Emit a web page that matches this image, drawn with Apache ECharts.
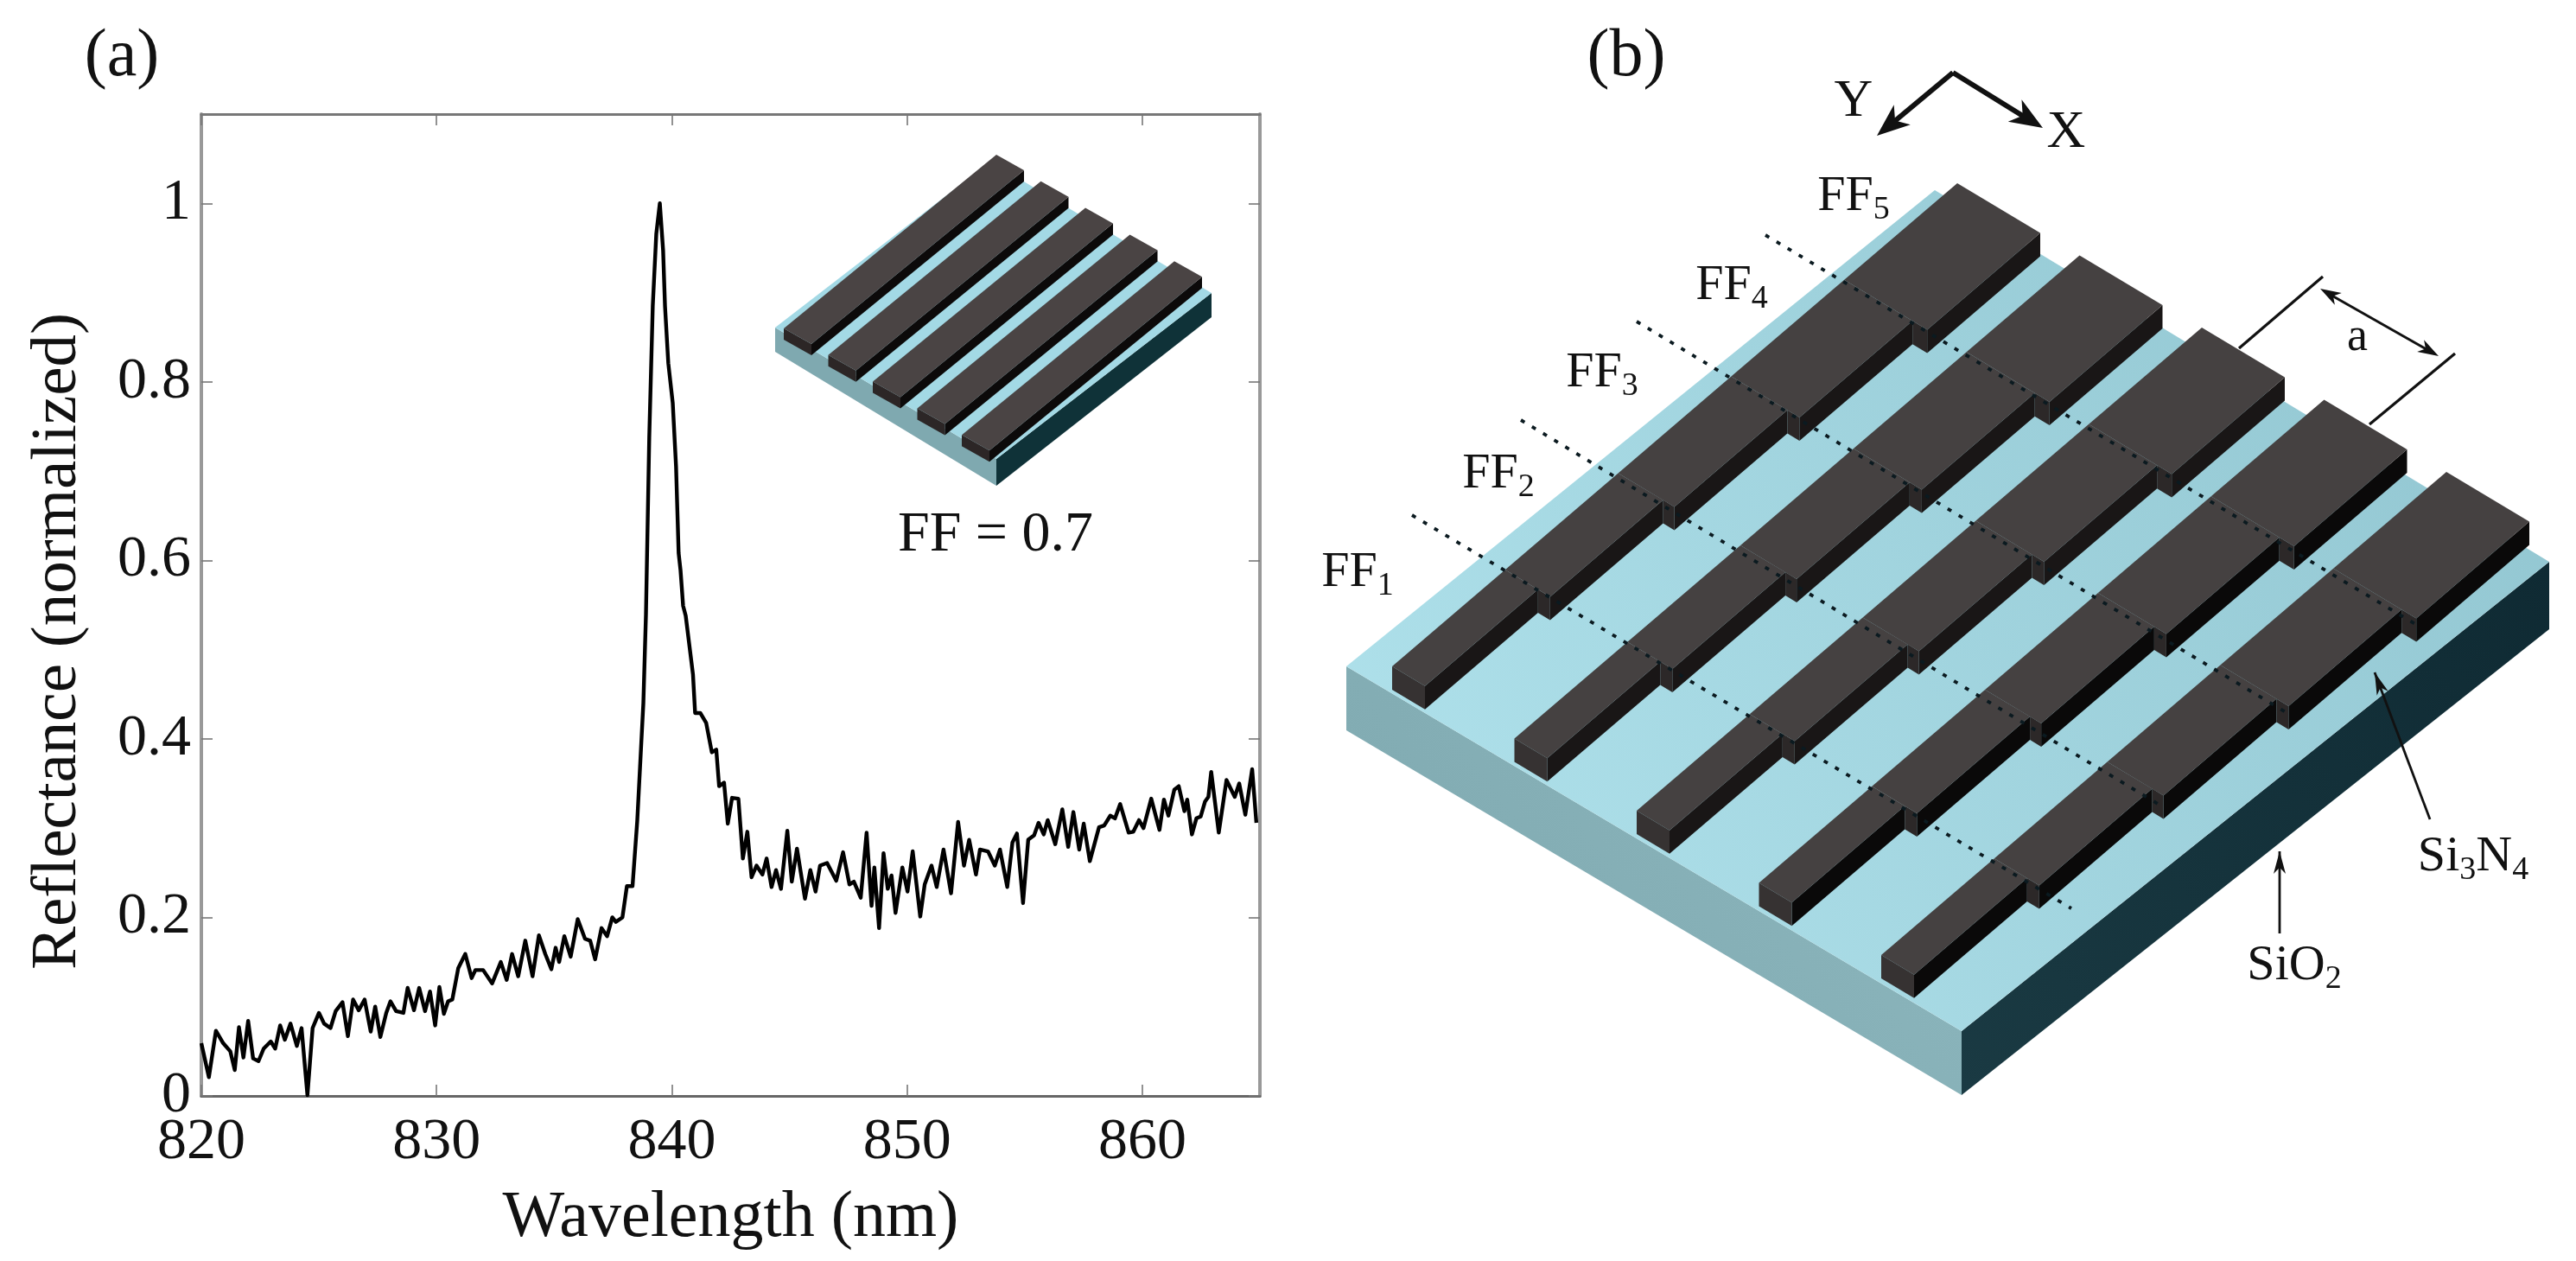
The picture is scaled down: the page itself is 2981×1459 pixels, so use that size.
<!DOCTYPE html>
<html><head><meta charset="utf-8">
<style>html,body{margin:0;padding:0;background:#fff}#c{width:2981px;height:1459px}</style>
<script src="https://cdn.jsdelivr.net/npm/echarts@6/dist/echarts.min.js"></script>
</head><body><div id="c"></div>
<script>
// ---- data ----
const wavelength = [
820,820.32,820.62,820.93,821.23,821.42,821.6,821.79,821.99,822.2,822.43,822.65,822.95,823.14,823.35,823.55,823.79,824.06,824.26,824.51,
824.73,825,825.22,825.49,825.71,826,826.23,826.45,826.69,826.94,827.2,827.39,827.61,827.86,828.04,828.28,828.59,828.77,829.04,829.26,
829.51,829.72,829.94,830.12,830.31,830.49,830.67,830.92,831.22,831.49,831.65,831.98,832.36,832.73,832.98,833.21,833.47,833.77,834.08,834.35,
834.62,834.88,835.06,835.21,835.43,835.7,836,836.31,836.53,836.74,837.01,837.25,837.47,837.62,837.9,838.09,838.33,838.53,838.79,838.9,
839.04,839.19,839.34,839.49,839.56,839.63,839.71,839.85,840.04,840.18,840.29,840.37,840.48,840.59,840.9,840.99,841.21,841.46,841.7,841.89,
842.01,842.22,842.38,842.56,842.83,843.02,843.21,843.39,843.6,843.85,844.03,844.24,844.43,844.64,844.91,845.1,845.32,845.66,845.89,846.11,
846.3,846.6,846.99,847.28,847.55,847.74,848.03,848.28,848.49,848.61,848.81,849,849.18,849.34,849.51,849.8,850.02,850.24,850.56,850.75,
851.04,851.26,851.55,851.87,852.17,852.42,852.64,852.93,853.1,853.44,853.73,853.95,854.26,854.48,854.67,854.93,855.15,855.4,855.59,855.81,
855.98,856.3,856.6,856.85,857.07,857.32,857.51,857.77,858.16,858.38,858.64,858.84,859.06,859.42,859.62,859.86,860.05,860.38,860.73,860.92,
861.11,861.36,861.55,861.79,861.91,862.11,862.3,862.48,862.67,862.81,862.93,863.25,863.58,863.93,864.12,864.38,864.67,864.85];
const reflectance = [
.059,.021,.073,.059,.05,.029,.077,.043,.084,.042,.039,.053,.061,.053,.079,.063,.081,.056,.076,.001,
.076,.093,.081,.076,.095,.105,.067,.108,.096,.108,.072,.1,.066,.093,.106,.095,.093,.121,.096,.121,
.095,.117,.079,.122,.092,.106,.108,.143,.159,.132,.141,.141,.126,.15,.13,.159,.134,.174,.134,.18,
.159,.142,.166,.15,.179,.156,.198,.176,.174,.153,.188,.179,.2,.195,.2,.235,.235,.308,.44,.539,
.737,.885,.966,1,1,.947,.885,.821,.776,.705,.608,.589,.549,.538,.472,.429,.429,.418,.385,.388,
.347,.351,.305,.334,.333,.266,.296,.245,.258,.248,.266,.234,.253,.232,.297,.24,.277,.221,.253,.229,
.258,.261,.241,.273,.237,.24,.222,.295,.213,.256,.188,.272,.232,.247,.205,.256,.229,.274,.201,.237,
.258,.234,.276,.227,.307,.258,.287,.248,.276,.274,.258,.276,.234,.284,.294,.216,.287,.292,.306,.293,
.309,.282,.321,.279,.318,.276,.305,.263,.301,.303,.314,.311,.327,.295,.296,.309,.3,.333,.298,.332,
.314,.343,.347,.319,.332,.293,.311,.313,.33,.335,.363,.295,.354,.335,.35,.315,.366,.306];
const xTicks = [820,830,840,850,860];
const yTicks = [0,0.2,0.4,0.6,0.8,1];
const xTitle = 'Wavelength (nm)';
const yTitle = 'Reflectance (normalized)';

const chart = echarts.init(document.getElementById('c'));
const FONT = '"Liberation Serif","Times New Roman",serif';
const TICK = '#777';

// ---- illustration helpers (schematics, not data) ----
const g = [];
const poly = (pts, fill, z) => g.push({type:'polygon', z:z||10, silent:true, shape:{points:pts}, style:{fill, stroke:null}});
const seg = (a,b,stroke,lw,dash) => g.push({type:'line', z:20, silent:true, shape:{x1:a[0],y1:a[1],x2:b[0],y2:b[1]}, style:{stroke, lineWidth:lw, lineDash:dash||null}});
const txt = (x,y,text,size,extra) => g.push(Object.assign({type:'text', z:30, silent:true, x, y, style:Object.assign({text, fill:'#111', font:size+'px '+FONT, textAlign:'center', textVerticalAlign:'middle'}, extra||{})}));
const subText = (x,y,text) => g.push({type:'text', z:30, silent:true, x, y, style:{
  text, textAlign:'center', textVerticalAlign:'middle', fill:'#111',
  rich:{a:{font:'58px '+FONT,fill:'#111',lineHeight:68,verticalAlign:'middle'},s:{font:'38px '+FONT,fill:'#111',lineHeight:68,verticalAlign:'bottom'}}
}});
const add = (p,q,k) => [p[0]+q[0]*(k===undefined?1:k), p[1]+q[1]*(k===undefined?1:k)];
const arrowHead = (tip, from, len, wid) => {
  const dx=tip[0]-from[0], dy=tip[1]-from[1], n=Math.hypot(dx,dy), ux=dx/n, uy=dy/n;
  const b=[tip[0]-ux*len, tip[1]-uy*len];
  poly([tip,[b[0]-uy*wid,b[1]+ux*wid],[tip[0]-ux*len*.72,tip[1]-uy*len*.72],[b[0]+uy*wid,b[1]-ux*wid]], '#111', 21);
};
const topFill = (c1,c2) => new echarts.graphic.LinearGradient(0,1,1,0,[{offset:0,color:c1},{offset:1,color:c2}]);

// ---- panel (b) ----
const BL=[1558,771], BF=[2270,1193], BR=[2950,650], BB=[2239,220], H=[0,74];
poly([BL,BF,add(BF,H),add(BL,H)], topFill('#7ea8af','#8db7be'));
poly([BF,BR,[2950,728],add(BF,H)], topFill('#1a3a43','#0f2a33'));
poly([BL,BB,BR,BF], topFill('#b2e4ee','#8fc3ce'));
const start=[1611,771], along=[654,-559], cross=[1,0.6], barH=27, offs=[141.5,83.5];
const widths=[38,52,65,79,96];
for(let k=0;k<5;k++){
  const o=[offs[0]*k, offs[1]*k];
  for(let s=4;s>=0;s--){
    const a=add(add(start,o),along,s/5), b=add(add(start,o),along,(s+1)/5);
    const w=[widths[s]*cross[0], widths[s]*cross[1]];
    const ar=add(a,w), br=add(b,w);
    poly([ar,br,add(br,[0,barH]),add(ar,[0,barH])], k>=3?'#0a0909':'#191616', 11+k);
    if(s<4){ // step face where the next, wider segment begins
      const wn=[widths[s+1]*cross[0], widths[s+1]*cross[1]];
      const bw=add(b,wn);
      poly([br,bw,add(bw,[0,barH]),add(br,[0,barH])], '#2c2828', 11+k);
    }
    poly([a,b,br,ar], '#454141', 12+k);
    if(s===0) poly([a,ar,add(ar,[0,barH]),add(a,[0,barH])], '#363232', 12+k);
  }
}
const ffStart=[[1634,596],[1760,486],[1894,372],[2043,272]];
const ffEnd=[[2397,1051],[2502,933],[2645,824],[2795,722]];
ffStart.forEach((p,i)=>seg(p,ffEnd[i],'#0b1a20',3.8,[5,10]));
const ffPos=[[1571,663],[1734,549],[1854,432],[2004,331],[2145,228]];
ffPos.forEach((p,i)=>subText(p[0],p[1],'{a|FF}{s|'+(i+1)+'}'));
seg([2688,320],[2591,403],'#111',3.2);
seg([2841,409],[2742,491],'#111',3.2);
seg([2695,340],[2813,407],'#111',3);
arrowHead([2685,334],[2813,407],24,8);
arrowHead([2822,412],[2695,340],24,8);
txt(2728,391,'a',54);
const apex=[2260,84], yTip=[2172,157], xTip=[2364,148];
seg(apex,add(yTip,[10,-8]),'#111',6);
seg(apex,add(xTip,[-12,-7]),'#111',6);
arrowHead(yTip,apex,38,15);
arrowHead(xTip,apex,38,15);
txt(2145,118,'Y',62);
txt(2391,154,'X',62);
const siN=[[2748,778],[2812,948]];
seg(siN[0],siN[1],'#111',2.8);
arrowHead(siN[0],siN[1],26,7);
subText(2862,992,'{a|Si}{s|3}{a|N}{s|4}');
seg([2638,985],[2638,1080],'#111',2.8);
arrowHead([2638,985],[2638,1080],26,7);
subText(2655,1118,'{a|SiO}{s|2}');

// ---- inset of panel (a) ----
const iL=[897,379], iF=[1153,531], iR=[1402,339], iB=[1146,187], iH=[0,28];
poly([iL,iF,add(iF,[0,31]),add(iL,iH)], '#7fa9b0');
poly([iF,iR,add(iR,iH),add(iF,[0,31])], '#0f3238');
poly([iL,iB,iR,iF], '#a3d9e5');
for(let k=0;k<5;k++){
  const o=[51.5*k,30.8*k];
  const a=add([907,380],o), b=add([1153,179],o), w=[32,18], h=[0,13];
  const ar=add(a,w), br=add(b,w);
  poly([ar,br,add(br,h),add(ar,h)],'#0c0a0a',11);
  poly([a,ar,add(ar,h),add(a,h)],'#2c2626',11);
  poly([a,b,br,ar],'#4a4444',12);
}
txt(1152,620,'FF = 0.7',66);
txt(141,67,'(a)',78);
txt(1882,67,'(b)',78);

chart.setOption({
  animation:false,
  backgroundColor:'#fff',
  grid:{left:233,top:132,width:1225,height:1136,containLabel:false},
  xAxis:[
    {type:'value',min:820,max:865,position:'bottom',
     name:xTitle,nameLocation:'middle',nameGap:104,
     nameTextStyle:{fontFamily:FONT,fontSize:76,color:'#111'},
     axisLine:{show:true,onZero:false,lineStyle:{color:'#666',width:3}},
     axisTick:{show:true,inside:true,length:13,customValues:xTicks,lineStyle:{color:TICK,width:1.6}},
     axisLabel:{show:true,margin:20,fontFamily:FONT,fontSize:68,color:'#111',customValues:xTicks},
     splitLine:{show:false}},
    {type:'value',min:820,max:865,position:'top',
     axisLine:{show:true,onZero:false,lineStyle:{color:'#777',width:3}},
     axisTick:{show:true,inside:true,length:13,customValues:xTicks,lineStyle:{color:TICK,width:1.6}},
     axisLabel:{show:false},splitLine:{show:false}}
  ],
  yAxis:[
    {type:'value',min:0,max:1.1,position:'left',
     name:yTitle,nameLocation:'middle',nameGap:128,
     nameTextStyle:{fontFamily:FONT,fontSize:75,color:'#111',padding:[0,84,0,0]},
     axisLine:{show:true,onZero:false,lineStyle:{color:'#999',width:4}},
     axisTick:{show:true,inside:true,length:13,customValues:yTicks,lineStyle:{color:TICK,width:1.6}},
     axisLabel:{show:true,margin:12,fontFamily:FONT,fontSize:68,color:'#111',customValues:yTicks},
     splitLine:{show:false}},
    {type:'value',min:0,max:1.1,position:'right',
     axisLine:{show:true,onZero:false,lineStyle:{color:'#999',width:4}},
     axisTick:{show:true,inside:true,length:13,customValues:yTicks,lineStyle:{color:TICK,width:1.6}},
     axisLabel:{show:false},splitLine:{show:false}}
  ],
  series:[{type:'line',name:'Reflectance',xAxisIndex:0,yAxisIndex:0,showSymbol:false,symbol:'none',smooth:false,clip:false,
    lineStyle:{color:'#000',width:4.4,join:'round'},
    data:wavelength.map((w,i)=>[w,reflectance[i]])}],
  graphic:{elements:g}
});
</script></body></html>
